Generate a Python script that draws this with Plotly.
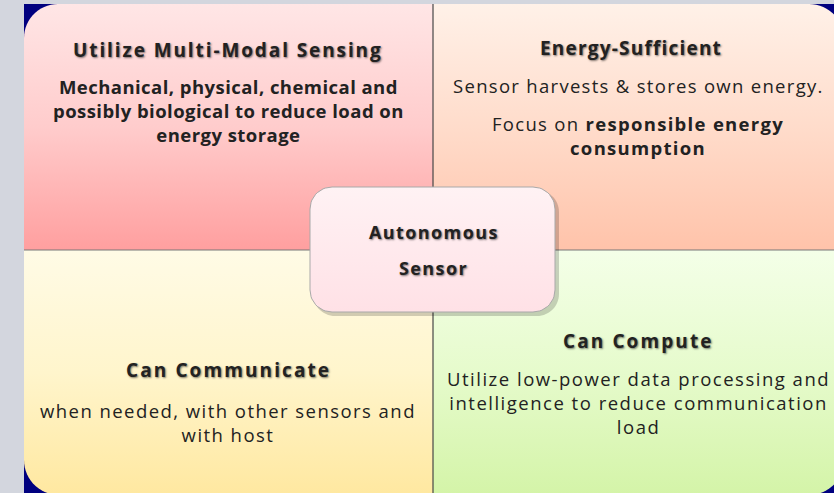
import numpy as np
import plotly.graph_objects as go

# ---- content ----
quad_titles = ["Utilize Multi-Modal Sensing", "Energy-Sufficient", "Can Communicate", "Can Compute"]
quad_lines = [
    [["Mechanical, physical, chemical and", "possibly biological to reduce load on", "energy storage"]],
    [["Sensor harvests & stores own energy."], ["Focus on <b>responsible energy</b>", "<b>consumption</b>"]],
    [["when needed, with other sensors and", "with host"]],
    [["Utilize low-power data processing and", "intelligence to reduce communication", "load"]],
]
center_lines = ["Autonomous", "Sensor"]
quad_colors = [
    [[0, "#ffe6e6"], [0.5, "#ffcccc"], [1, "#ff9f9f"]],
    [[0, "#fff1e8"], [0.5, "#ffdccb"], [1, "#ffc3aa"]],
    [[0, "#fffbe6"], [0.5, "#fff5cc"], [1, "#ffe8a0"]],
    [[0, "#f4ffe8"], [0.5, "#e6fbcc"], [1, "#d4f4a8"]],
]

W, H = 834, 493
FONT = "Open Sans"


def rrect(x0, x1, y0, y1, r):
    """rounded rectangle polygon; r = (tl, tr, br, bl) radii (y grows downward)"""
    tl, tr, br, bl = r
    pts = []
    def arc(cx, cy, rad, a0, a1):
        t = np.linspace(a0, a1, 16)
        return list(zip(cx + rad * np.cos(t), cy + rad * np.sin(t)))
    pts += arc(x0 + tl, y0 + tl, tl, np.pi, 1.5 * np.pi) if tl else [(x0, y0)]
    pts += arc(x1 - tr, y0 + tr, tr, 1.5 * np.pi, 2 * np.pi) if tr else [(x1, y0)]
    pts += arc(x1 - br, y1 - br, br, 0, 0.5 * np.pi) if br else [(x1, y1)]
    pts += arc(x0 + bl, y1 - bl, bl, 0.5 * np.pi, np.pi) if bl else [(x0, y1)]
    pts.append(pts[0])
    xs, ys = zip(*pts)
    return list(xs), list(ys)


fig = go.Figure()

# navy panel
xs, ys = rrect(24, 844, 4, 495, (0, 0, 0, 0))
fig.add_trace(go.Scatter(x=xs, y=ys, fill="toself", fillcolor="#00007f", mode="none", hoverinfo="skip"))

boxes = [
    (24, 433, 4, 250, (34, 0, 0, 0)),
    (433, 844, 4, 250, (0, 35, 0, 0)),
    (24, 433, 250, 495, (0, 0, 0, 35)),
    (433, 844, 250, 495, (0, 0, 35, 0)),
]
for (x0, x1, y0, y1, r), cs in zip(boxes, quad_colors):
    xs, ys = rrect(x0, x1, y0, y1, r)
    fig.add_trace(go.Scatter(x=xs, y=ys, fill="toself", mode="none", hoverinfo="skip",
                             fillgradient=dict(type="vertical", colorscale=cs, start=y0, stop=y1)))

# divider lines (below the centre box)
fig.add_trace(go.Scatter(x=[433, 433], y=[4, 493], mode="lines", hoverinfo="skip",
                         line=dict(color="rgba(70,70,70,0.6)", width=2)))
fig.add_trace(go.Scatter(x=[24, 834], y=[250, 250], mode="lines", hoverinfo="skip",
                         line=dict(color="rgba(120,120,120,0.5)", width=2)))

# center box shadow + box
xs, ys = rrect(313, 559, 190, 316, (22, 22, 22, 22))
fig.add_trace(go.Scatter(x=xs, y=ys, fill="toself", fillcolor="rgba(0,0,0,0.18)", mode="none", hoverinfo="skip"))
xs, ys = rrect(310, 555, 187, 312, (22, 22, 22, 22))
fig.add_trace(go.Scatter(x=xs, y=ys, fill="toself", mode="lines", line=dict(color="#a9a9a9", width=1),
                         hoverinfo="skip",
                         fillgradient=dict(type="vertical", colorscale=[[0, "#fff2f4"], [1, "#ffe1e6"]],
                                           start=187, stop=312)))

shadow = "1px 1px 2px rgba(0,0,0,0.5)"

def txt(x, y, lines, size, weight="normal", sh=False, ls=0.0):
    text = "<br>".join(f'<span style="letter-spacing:{ls}px">{s}</span>' for s in lines)
    fig.add_annotation(x=x, y=y, text=text,
                       showarrow=False, xanchor="center", yanchor="middle",
                       font=dict(family=FONT, size=size, color="#222222", weight=weight,
                                 shadow=shadow if sh else "none"))

# quadrant text
centers_x = [228, 638, 228, 638]
title_x = [228, 631, 228, 638]
title_y = [50, 48, 370, 341]
title_ls = [1.9, 1.2, 2.1, 2.1]
block_y = [[110], [85, 135], [422], [402]]
body_weight = ["bold", "normal", "normal", "normal"]
body_ls = [0.45, 1.3, 1.45, 1.5]
for i in range(4):
    txt(title_x[i], title_y[i], [quad_titles[i]], 19, weight="bold", sh=True, ls=title_ls[i])
    for block, y in zip(quad_lines[i], block_y[i]):
        txt(centers_x[i], y, block, 18.5, weight=body_weight[i], ls=body_ls[i])

txt(434, 232, [center_lines[0]], 18, weight="bold", sh=True, ls=1.4)
txt(433, 268, [center_lines[1]], 18, weight="bold", sh=True, ls=1.4)

fig.update_layout(
    width=W, height=H, margin=dict(l=0, r=0, t=0, b=0),
    paper_bgcolor="#d3d6de", plot_bgcolor="#d3d6de", showlegend=False,
    xaxis=dict(range=[0, W], visible=False, fixedrange=True),
    yaxis=dict(range=[H, 0], visible=False, fixedrange=True),
)
fig.write_html("out.html", config={"displayModeBar": False},
               post_script="document.body.style.margin='0px';document.body.style.overflow='hidden';")
